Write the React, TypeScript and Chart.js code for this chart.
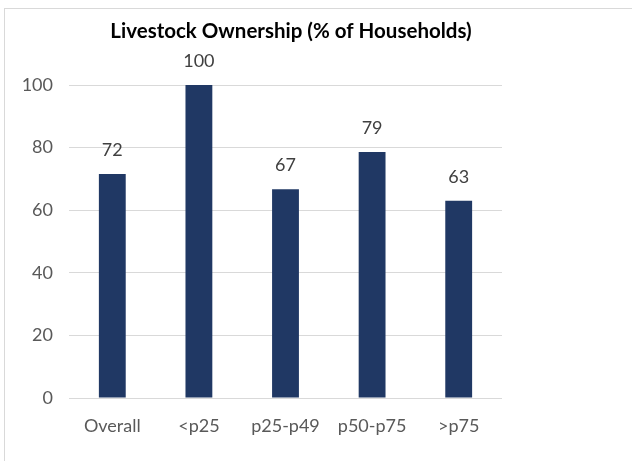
import React, { useEffect, useRef } from "react";
import { Chart, registerables } from "chart.js";

Chart.register(...registerables);

const categories = ["Overall", "<p25", "p25-p49", "p50-p75", ">p75"];
const ownership = [71.6, 100, 66.7, 78.6, 63.0];
const yTicks = [0, 20, 40, 60, 80, 100];
const titleText = "Livestock Ownership (% of Households)";

const FONT = "Lato, 'Open Sans', sans-serif";

const labelPlugin = {
  id: "barLabels",
  afterDatasetsDraw(chart: any) {
    const ctx = chart.ctx;
    const meta = chart.getDatasetMeta(0);
    ctx.save();
    ctx.font = `18px ${FONT}`;
    ctx.fillStyle = "#404040";
    ctx.textAlign = "center";
    ctx.textBaseline = "middle";
    meta.data.forEach((el: any, i: number) => {
      ctx.fillText(String(Math.round(ownership[i])), el.x, el.y - 24);
    });
    ctx.restore();
  },
};

const titlePlugin = {
  id: "customTitle",
  afterDraw(chart: any) {
    const ctx = chart.ctx;
    ctx.save();
    ctx.font = `bold 20.5px ${FONT}`;
    ctx.fillStyle = "#000000";
    ctx.textAlign = "center";
    ctx.textBaseline = "middle";
    ctx.fillText(titleText, 286, 22);
    ctx.restore();
  },
};

export default function App() {
  const ref = useRef<HTMLCanvasElement>(null);
  useEffect(() => {
    if (!ref.current) return;
    const chart = new Chart(ref.current, {
      type: "bar",
      data: {
        labels: categories,
        datasets: [
          {
            data: ownership,
            backgroundColor: "#203864",
            borderWidth: 0,
            categoryPercentage: 1,
            barPercentage: 0.31,
          },
        ],
      },
      options: {
        animation: false,
        responsive: false,
        maintainAspectRatio: false,
        layout: { padding: { top: 76, right: 130, bottom: 0, left: 0 } },
        plugins: { legend: { display: false }, title: { display: false }, tooltip: { enabled: false } },
        scales: {
          x: {
            grid: { display: false, drawTicks: false },
            border: { display: false },
            ticks: { color: "#595959", font: { family: FONT, size: 18 }, padding: 17 },
            afterFit: (s: any) => { s.height = 63; },
          },
          y: {
            min: 0,
            max: 100,
            afterBuildTicks: (s: any) => { s.ticks = yTicks.map((v) => ({ value: v })); },
            grid: { color: "#d9d9d9", lineWidth: 1, drawTicks: false },
            border: { display: false },
            ticks: { color: "#595959", font: { family: FONT, size: 18 }, padding: 16 },
            afterFit: (s: any) => { s.width = 64; },
          },
        },
      },
      plugins: [labelPlugin, titlePlugin],
    });
    return () => chart.destroy();
  }, []);
  return (
    <div
      style={{
        position: "fixed",
        left: 4,
        top: 8,
        width: 660,
        height: 470,
        border: "1px solid #d9d9d9",
        background: "#fff",
        boxSizing: "border-box",
      }}
    >
      <canvas ref={ref} width={627} height={452} style={{ display: "block" }} />
    </div>
  );
}
